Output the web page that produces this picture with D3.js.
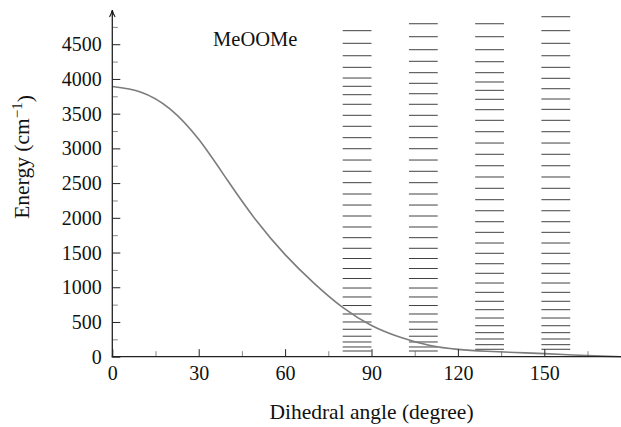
<!DOCTYPE html>
<html lang="en">
  <head>
    <meta charset="UTF-8" />
    <title>MeOOMe torsional levels</title>
    <style>
      body {
        margin: 0;
        background: #fff;
      }
      svg text {
        font-family: "Liberation Serif", "Times New Roman", serif;
        fill: #111;
      }
    </style>
    <script src="https://d3js.org/d3.v7.min.js"></script>
  </head>
  <body>
    <div id="chart"></div>
    <script>
      // potential curve (degree, cm-1)
      const curveAngles = [0, 10, 20, 30, 40, 50, 60, 70, 80, 90, 100, 110, 120, 130, 140, 150, 160, 170, 180];
      const curveEnergy = [3890, 3810, 3570, 3130, 2540, 1960, 1470, 1060, 710, 450, 280, 165, 105, 78, 60, 44, 25, 8, -5];

      // the four stacks of levels: angle span of each stack
      const stackSpans = [[80, 90], [103, 113], [126, 136], [149, 159]];

      const levelsLow = [82, 140, 212, 295, 395, 500, 615, 737, 860, 989, 1126, 1270, 1414, 1561, 1714, 1868, 2026, 2184, 2343, 2506, 2670, 2832, 2995, 3154, 3318, 3476];
      const levelsHigh = [107, 173, 255, 346, 446, 557, 677, 798, 927, 1061, 1201, 1339, 1489, 1637, 1791, 1944, 2102, 2261, 2425, 2588, 2750, 2915, 3077, 3240, 3404];

      const stack1 = levelsLow.concat([3635, 3773, 3894, 4013, 4167, 4334, 4513, 4695]);
      const stack2 = levelsLow.concat([3635, 3787, 3937, 4090, 4254, 4421, 4608, 4795]);
      const stack3 = levelsHigh.concat([3557, 3707, 3836, 3956, 4090, 4248, 4421, 4608, 4795]);
      const stack4 = levelsHigh.concat([3562, 3711, 3859, 4009, 4167, 4334, 4513, 4695, 4896]);
      const stacks = [stack1, stack2, stack3, stack4];

      const xMajor = [0, 30, 60, 90, 120, 150];
      const xMinor = [15, 45, 75, 105, 135, 165];
      const yMajor = [0, 500, 1000, 1500, 2000, 2500, 3000, 3500, 4000, 4500];
      const yMinor = [250, 750, 1250, 1750, 2250, 2750, 3250, 3750, 4250, 4750];

      const W = 621, H = 427;

      const svg = d3
        .select("#chart")
        .append("svg")
        .attr("width", W)
        .attr("height", H);

      const x = d3.scaleLinear().domain([0, 180]).range([112.3, 630.7]);
      const y = d3.scaleLinear().domain([0, 5000]).range([356.7, 9.5]);

      // level lines
      stacks.forEach((levels, i) => {
        const [a, b] = stackSpans[i];
        svg
          .append("g")
          .selectAll("line")
          .data(levels)
          .enter()
          .append("line")
          .attr("x1", x(a))
          .attr("x2", x(b))
          .attr("y1", (d) => y(d))
          .attr("y2", (d) => y(d))
          .attr("stroke", "#111")
          .attr("stroke-width", 0.8);
      });

      // potential curve
      const line = d3
        .line()
        .x((d, i) => x(curveAngles[i]))
        .y((d) => y(d))
        .curve(d3.curveNatural);

      svg
        .append("path")
        .datum(curveEnergy)
        .attr("d", line)
        .attr("fill", "none")
        .attr("stroke", "#7c7c7c")
        .attr("stroke-width", 1.6);

      // x axis
      const xAxisG = svg
        .append("g")
        .attr("transform", `translate(0,${y(0)})`)
        .call(
          d3.axisBottom(x).tickValues(xMajor).tickSize(-7.5).tickSizeOuter(0).tickPadding(9).tickFormat(d3.format("d"))
        );
      xAxisG.select(".domain").remove();
      xAxisG.selectAll("line").attr("stroke", "#222").attr("stroke-width", 1);
      xAxisG.selectAll("text").style("font-size", "20px").attr("fill", "#111");

      const xMinorG = svg
        .append("g")
        .attr("transform", `translate(0,${y(0)})`)
        .call(d3.axisBottom(x).tickValues(xMinor).tickSize(-5.5).tickSizeOuter(0).tickFormat(""));
      xMinorG.select(".domain").remove();
      xMinorG.selectAll("line").attr("stroke", "#555").attr("stroke-width", 0.7);

      // y axis
      const yAxisG = svg
        .append("g")
        .attr("transform", `translate(${x(0)},0)`)
        .call(
          d3.axisLeft(y).tickValues(yMajor).tickSize(-8).tickSizeOuter(0).tickPadding(10.5).tickFormat(d3.format("d"))
        );
      yAxisG.select(".domain").remove();
      yAxisG.selectAll("line").attr("stroke", "#222").attr("stroke-width", 1);
      yAxisG.selectAll("text").style("font-size", "20px").attr("dy", "0.33em").attr("fill", "#111");

      const yMinorG = svg
        .append("g")
        .attr("transform", `translate(${x(0)},0)`)
        .call(d3.axisLeft(y).tickValues(yMinor).tickSize(-5.5).tickSizeOuter(0).tickFormat(""));
      yMinorG.select(".domain").remove();
      yMinorG.selectAll("line").attr("stroke", "#555").attr("stroke-width", 0.7);

      // axis lines with arrow heads
      svg
        .append("defs")
        .append("marker")
        .attr("id", "arrow")
        .attr("viewBox", "0 0 10 10")
        .attr("refX", 9)
        .attr("refY", 5)
        .attr("markerUnits", "userSpaceOnUse")
        .attr("markerWidth", 8)
        .attr("markerHeight", 8)
        .attr("orient", "auto")
        .append("path")
        .attr("d", "M1,1.5 Q5,4 9.5,5 Q5,6 1,8.5")
        .attr("fill", "none")
        .attr("stroke", "#111")
        .attr("stroke-width", 1.3);

      svg
        .append("line")
        .attr("x1", x(0))
        .attr("x2", x(0))
        .attr("y1", y(0) + 0.6)
        .attr("y2", y(4985))
        .attr("stroke", "#222")
        .attr("stroke-width", 1.3)
        .attr("marker-end", "url(#arrow)");

      svg
        .append("line")
        .attr("x1", x(0) - 0.6)
        .attr("x2", x(180))
        .attr("y1", y(0))
        .attr("y2", y(0))
        .attr("stroke", "#222")
        .attr("stroke-width", 1.3)
        .attr("marker-end", "url(#arrow)");

      // labels
      svg
        .append("text")
        .attr("x", x(90))
        .attr("y", 419)
        .attr("text-anchor", "middle")
        .style("font-size", "21.5px")
        .text("Dihedral angle (degree)");

      const yLabel = svg
        .append("text")
        .attr("transform", "translate(29,157) rotate(-90)")
        .attr("text-anchor", "middle")
        .style("font-size", "21.5px");
      yLabel.append("tspan").text("Energy (cm");
      yLabel.append("tspan").attr("dy", "-0.45em").style("font-size", "15px").text("\u22121");
      yLabel.append("tspan").attr("dy", "0.45em").text(")");

      svg
        .append("text")
        .attr("x", x(35))
        .attr("y", y(4470))
        .style("font-size", "20.5px")
        .text("MeOOMe");
    </script>
  </body>
</html>
